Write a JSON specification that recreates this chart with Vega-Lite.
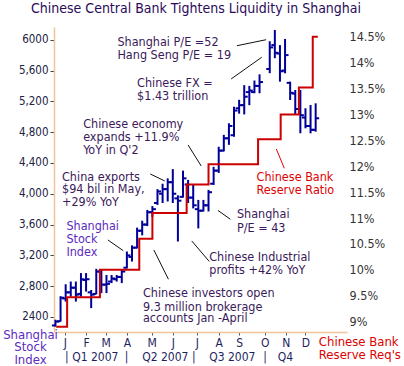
{
  "$schema": "https://vega.github.io/schema/vega-lite/v6.json",
  "width": 293,
  "height": 305,
  "autosize": "none",
  "padding": {"left": 54, "top": 27, "right": 57, "bottom": 34},
  "config": {
    "view": {"stroke": null},
    "font": "DejaVu Sans Condensed, DejaVu Sans, sans-serif"
  },
  "title": {
    "text": "Chinese Central Bank Tightens Liquidity in Shanghai",
    "anchor": "start",
    "frame": "group",
    "dx": -23,
    "offset": 0,
    "baseline": "alphabetic",
    "fontSize": 14,
    "fontWeight": "normal",
    "color": "#2A0A5A"
  },
  "datasets": {
    "ohlc": [
      {"date": "2007-01-03T00:00", "open": 2290, "high": 2365, "low": 2275, "close": 2340},
      {"date": "2007-01-10T00:00", "open": 2345, "high": 2670, "low": 2340, "close": 2650},
      {"date": "2007-01-17T00:00", "open": 2640, "high": 2825, "low": 2600, "close": 2720},
      {"date": "2007-01-24T00:00", "open": 2720, "high": 2860, "low": 2665, "close": 2780},
      {"date": "2007-01-31T00:00", "open": 2780, "high": 2860, "low": 2600, "close": 2690},
      {"date": "2007-02-07T00:00", "open": 2700, "high": 2970, "low": 2665, "close": 2890},
      {"date": "2007-02-14T00:00", "open": 2880, "high": 2970, "low": 2730, "close": 2890},
      {"date": "2007-02-21T00:00", "open": 2720, "high": 2750, "low": 2515, "close": 2690},
      {"date": "2007-02-28T00:00", "open": 2700, "high": 3025, "low": 2695, "close": 2990},
      {"date": "2007-03-07T00:00", "open": 2990, "high": 3010, "low": 2710, "close": 2820},
      {"date": "2007-03-14T00:00", "open": 2820, "high": 2945, "low": 2710, "close": 2830},
      {"date": "2007-03-21T00:00", "open": 2860, "high": 2945, "low": 2840, "close": 2900},
      {"date": "2007-03-28T00:00", "open": 2890, "high": 2945, "low": 2860, "close": 2920},
      {"date": "2007-04-04T00:00", "open": 2920, "high": 3010, "low": 2840, "close": 2990},
      {"date": "2007-04-11T00:00", "open": 3040, "high": 3250, "low": 3030, "close": 3200},
      {"date": "2007-04-18T00:00", "open": 3180, "high": 3330, "low": 3120, "close": 3300},
      {"date": "2007-04-25T00:00", "open": 3300, "high": 3560, "low": 3290, "close": 3520},
      {"date": "2007-05-02T00:00", "open": 3520, "high": 3650, "low": 3460, "close": 3600},
      {"date": "2007-05-09T00:00", "open": 3600, "high": 3790, "low": 3580, "close": 3760},
      {"date": "2007-05-16T00:00", "open": 3760, "high": 3840, "low": 3700, "close": 3800},
      {"date": "2007-05-23T00:00", "open": 3880, "high": 4060, "low": 3855, "close": 4030},
      {"date": "2007-05-30T00:00", "open": 4000, "high": 4130, "low": 3880, "close": 4060},
      {"date": "2007-06-06T00:00", "open": 4060, "high": 4200, "low": 3900, "close": 4150},
      {"date": "2007-06-13T00:00", "open": 4150, "high": 4320, "low": 3880, "close": 4000},
      {"date": "2007-06-20T00:00", "open": 3940, "high": 3980, "low": 3380, "close": 3910},
      {"date": "2007-06-27T00:00", "open": 3960, "high": 4300, "low": 3950, "close": 4200},
      {"date": "2007-07-04T00:00", "open": 4120, "high": 4180, "low": 3880, "close": 3950},
      {"date": "2007-07-11T00:00", "open": 3950, "high": 4115, "low": 3810, "close": 3850},
      {"date": "2007-07-18T00:00", "open": 3800, "high": 3920, "low": 3550, "close": 3780},
      {"date": "2007-07-25T00:00", "open": 3780, "high": 3920, "low": 3770, "close": 3850},
      {"date": "2007-08-01T00:00", "open": 3850, "high": 4050, "low": 3770, "close": 4020},
      {"date": "2007-08-08T00:00", "open": 4130, "high": 4350, "low": 4115, "close": 4300},
      {"date": "2007-08-15T00:00", "open": 4300, "high": 4610, "low": 4270, "close": 4560},
      {"date": "2007-08-22T00:00", "open": 4560, "high": 4765, "low": 4550, "close": 4720},
      {"date": "2007-08-29T00:00", "open": 4720, "high": 4915, "low": 4635, "close": 4880},
      {"date": "2007-09-05T00:00", "open": 4760, "high": 5130, "low": 4740, "close": 5080},
      {"date": "2007-09-12T00:00", "open": 5110, "high": 5220, "low": 5040, "close": 5150},
      {"date": "2007-09-19T00:00", "open": 5150, "high": 5410, "low": 5030, "close": 5260},
      {"date": "2007-09-26T00:00", "open": 5320, "high": 5400, "low": 5150, "close": 5340},
      {"date": "2007-10-03T00:00", "open": 5320, "high": 5470, "low": 5305, "close": 5400},
      {"date": "2007-10-10T00:00", "open": 5400, "high": 5550, "low": 5305, "close": 5450},
      {"date": "2007-10-24T00:00", "open": 5620, "high": 5980, "low": 5565, "close": 5900},
      {"date": "2007-10-31T00:00", "open": 5930, "high": 6126, "low": 5760, "close": 5830},
      {"date": "2007-11-07T00:00", "open": 5820, "high": 5930, "low": 5455, "close": 5590},
      {"date": "2007-11-14T00:00", "open": 5600, "high": 6010, "low": 5564, "close": 5800},
      {"date": "2007-11-21T00:00", "open": 5440, "high": 5455, "low": 5217, "close": 5310},
      {"date": "2007-11-28T00:00", "open": 5300, "high": 5347, "low": 5023, "close": 5100},
      {"date": "2007-12-05T00:00", "open": 5100, "high": 5347, "low": 4785, "close": 5020},
      {"date": "2007-12-12T00:00", "open": 4990, "high": 5110, "low": 4850, "close": 4880},
      {"date": "2007-12-19T00:00", "open": 4880, "high": 5152, "low": 4785, "close": 4830},
      {"date": "2007-12-26T00:00", "open": 4830, "high": 5174, "low": 4806, "close": 4980}
    ],
    "reserve": [
      {"date": "2007-01-04T00:00", "ratio": 8.9},
      {"date": "2007-01-19T00:00", "ratio": 9.47},
      {"date": "2007-03-05T00:00", "ratio": 10.0},
      {"date": "2007-04-28T00:00", "ratio": 10.6},
      {"date": "2007-05-16T00:00", "ratio": 11.1},
      {"date": "2007-07-02T00:00", "ratio": 11.65},
      {"date": "2007-08-01T00:00", "ratio": 12.04},
      {"date": "2007-10-08T00:00", "ratio": 12.52},
      {"date": "2007-11-08T00:00", "ratio": 13.0},
      {"date": "2007-12-03T00:00", "ratio": 13.52},
      {"date": "2007-12-22T00:00", "ratio": 14.5},
      {"date": "2007-12-29T00:00", "ratio": 14.5}
    ],
    "notes": [
      {"date": "2007-03-29T00:00", "value": 5974, "text": "Shanghai P/E =52", "kind": "note"},
      {"date": "2007-03-29T00:00", "value": 5801, "text": "Hang Seng P/E = 19", "kind": "note"},
      {"date": "2007-04-25T00:00", "value": 5434, "text": "Chinese FX =", "kind": "note"},
      {"date": "2007-04-25T00:00", "value": 5269, "text": "$1.43 trillion", "kind": "note"},
      {"date": "2007-02-10T00:00", "value": 4902, "text": "Chinese economy", "kind": "note"},
      {"date": "2007-02-10T00:00", "value": 4733, "text": "expands +11.9%", "kind": "note"},
      {"date": "2007-02-10T00:00", "value": 4568, "text": "YoY in Q'2", "kind": "note"},
      {"date": "2007-01-12T00:00", "value": 4222, "text": "China exports", "kind": "note"},
      {"date": "2007-01-12T00:00", "value": 4058, "text": "$94 bil in May,", "kind": "note"},
      {"date": "2007-01-12T00:00", "value": 3897, "text": "+29% YoY", "kind": "note"},
      {"date": "2007-01-18T00:00", "value": 3585, "text": "Shanghai", "kind": "stock"},
      {"date": "2007-01-18T00:00", "value": 3413, "text": "Stock", "kind": "stock"},
      {"date": "2007-01-18T00:00", "value": 3248, "text": "Index", "kind": "stock"},
      {"date": "2007-10-06T00:00", "value": 4214, "text": "Chinese Bank", "kind": "red"},
      {"date": "2007-10-06T00:00", "value": 4049, "text": "Reserve Ratio", "kind": "red"},
      {"date": "2007-09-09T00:00", "value": 3733, "text": "Shanghai", "kind": "note"},
      {"date": "2007-09-09T00:00", "value": 3552, "text": "P/E = 43", "kind": "note"},
      {"date": "2007-08-02T00:00", "value": 3175, "text": "Chinese Industrial", "kind": "note"},
      {"date": "2007-08-02T00:00", "value": 3010, "text": "profits +42% YoY", "kind": "note"},
      {"date": "2007-05-03T00:00", "value": 2708, "text": "Chinese investors open", "kind": "note"},
      {"date": "2007-05-03T00:00", "value": 2534, "text": "9.3 million brokerage", "kind": "note"},
      {"date": "2007-05-03T00:00", "value": 2383, "text": "accounts Jan -April", "kind": "note"}
    ],
    "leaders": [
      {"date": "2007-09-09T00:00", "value": 5922, "date2": "2007-10-19T00:00", "value2": 6000, "kind": "leader"},
      {"date": "2007-09-01T00:00", "value": 5490, "date2": "2007-10-13T00:00", "value2": 5772, "kind": "leader"},
      {"date": "2007-07-04T00:00", "value": 4633, "date2": "2007-07-22T00:00", "value2": 4360, "kind": "leader"},
      {"date": "2007-05-13T00:00", "value": 4257, "date2": "2007-06-02T00:00", "value2": 4166, "kind": "leader"},
      {"date": "2007-03-16T00:00", "value": 3400, "date2": "2007-04-06T00:00", "value2": 3261, "kind": "leader"},
      {"date": "2007-11-02T00:00", "value": 4581, "date2": "2007-11-13T00:00", "value2": 4331, "kind": "red"},
      {"date": "2007-08-14T00:00", "value": 3783, "date2": "2007-08-31T00:00", "value2": 3669, "kind": "leader"},
      {"date": "2007-07-09T00:00", "value": 3387, "date2": "2007-08-02T00:00", "value2": 3121, "kind": "leader"},
      {"date": "2007-05-18T00:00", "value": 3270, "date2": "2007-06-07T00:00", "value2": 2890, "kind": "leader"}
    ]
  },
  "layer": [
    {
      "data": {"name": "ohlc"},
      "mark": {"type": "rule", "color": "#000099", "strokeWidth": 2},
      "encoding": {
        "x": {
          "field": "date",
          "type": "temporal",
          "scale": {"domain": [{"year": 2007, "month": 1, "date": 1}, {"year": 2008, "month": 2, "date": 7}]},
          "axis": {
            "orient": "bottom",
            "title": null,
            "grid": false,
            "values": [
              {"year": 2007, "month": 1, "date": 16},
              {"year": 2007, "month": 2, "date": 14},
              {"year": 2007, "month": 3, "date": 13},
              {"year": 2007, "month": 4, "date": 11},
              {"year": 2007, "month": 5, "date": 15},
              {"year": 2007, "month": 6, "date": 13},
              {"year": 2007, "month": 7, "date": 16},
              {"year": 2007, "month": 8, "date": 15},
              {"year": 2007, "month": 9, "date": 12},
              {"year": 2007, "month": 10, "date": 17},
              {"year": 2007, "month": 11, "date": 15},
              {"year": 2007, "month": 12, "date": 12}
            ],
            "labelExpr": "substring(timeFormat(datum.value, '%b'), 0, 1)",
            "labelOverlap": false,
            "labelFlush": false,
            "domainColor": "#F3C39A",
            "domainWidth": 1.5,
            "tickColor": "#555555",
            "tickSize": 3,
            "labelPadding": 2,
            "labelFontSize": 12,
            "labelColor": "#1F1F5F"
          }
        },
        "y": {
          "field": "low",
          "type": "quantitative",
          "scale": {"domain": [2205, 6165], "nice": false, "zero": false},
          "axis": {
            "orient": "left",
            "values": [2400, 2800, 3200, 3600, 4000, 4400, 4800, 5200, 5600, 6000],
            "labelExpr": "datum.value == 2400 || datum.value == 6000 ? '' + datum.value : format(datum.value, ',')",
            "grid": false,
            "domainColor": "#F3C39A",
            "domainWidth": 1.5,
            "tickSize": 4,
            "tickColor": "#444444",
            "labelPadding": 2,
            "labelFontSize": 11.5,
            "labelColor": "#222244",
            "title": ["Shanghai", "Stock", "Index"],
            "titleAngle": 0,
            "titleX": -24,
            "titleY": 301,
            "titleAlign": "center",
            "titleBaseline": "top",
            "titleColor": "#5B2BC0",
            "titleFontSize": 13,
            "titleFontWeight": "normal",
            "titleLineHeight": 12.5
          }
        },
        "y2": {"field": "high"}
      }
    },
    {
      "data": {"name": "ohlc"},
      "mark": {"type": "rule", "color": "#000099", "strokeWidth": 2, "xOffset": -3.5, "x2Offset": 0},
      "encoding": {
        "x": {"field": "date", "type": "temporal", "scale": {"domain": [{"year": 2007, "month": 1, "date": 1}, {"year": 2008, "month": 2, "date": 7}]}, "axis": null},
        "x2": {"field": "date"},
        "y": {"field": "open", "type": "quantitative", "scale": {"domain": [2205, 6165], "nice": false, "zero": false}, "axis": null}
      }
    },
    {
      "data": {"name": "ohlc"},
      "mark": {"type": "rule", "color": "#000099", "strokeWidth": 2, "xOffset": 0, "x2Offset": 3.5},
      "encoding": {
        "x": {"field": "date", "type": "temporal", "scale": {"domain": [{"year": 2007, "month": 1, "date": 1}, {"year": 2008, "month": 2, "date": 7}]}, "axis": null},
        "x2": {"field": "date"},
        "y": {"field": "close", "type": "quantitative", "scale": {"domain": [2205, 6165], "nice": false, "zero": false}, "axis": null}
      }
    },
    {
      "data": {"name": "leaders"},
      "mark": {"type": "rule", "strokeWidth": 1},
      "encoding": {
        "x": {"field": "date", "type": "temporal", "scale": {"domain": [{"year": 2007, "month": 1, "date": 1}, {"year": 2008, "month": 2, "date": 7}]}, "axis": null},
        "x2": {"field": "date2"},
        "y": {"field": "value", "type": "quantitative", "scale": {"domain": [2205, 6165], "nice": false, "zero": false}, "axis": null},
        "y2": {"field": "value2"},
        "color": {
          "field": "kind",
          "type": "nominal",
          "scale": {"domain": ["note", "stock", "red", "leader"], "range": ["#3A1A5A", "#5B2BC0", "#DD0000", "#111111"]},
          "legend": null
        }
      }
    },
    {
      "data": {"name": "notes"},
      "mark": {"type": "text", "align": "left", "baseline": "middle", "fontSize": 12.5},
      "encoding": {
        "x": {"field": "date", "type": "temporal", "scale": {"domain": [{"year": 2007, "month": 1, "date": 1}, {"year": 2008, "month": 2, "date": 7}]}, "axis": null},
        "y": {"field": "value", "type": "quantitative", "scale": {"domain": [2205, 6165], "nice": false, "zero": false}, "axis": null},
        "text": {"field": "text"},
        "color": {
          "field": "kind",
          "type": "nominal",
          "scale": {"domain": ["note", "stock", "red", "leader"], "range": ["#3A1A5A", "#5B2BC0", "#DD0000", "#111111"]},
          "legend": null
        }
      }
    },
    {
      "data": {"name": "reserve"},
      "mark": {"type": "line", "interpolate": "step-after", "color": "#CC0000", "strokeWidth": 2},
      "encoding": {
        "x": {
          "field": "date",
          "type": "temporal",
          "scale": {"domain": [{"year": 2007, "month": 1, "date": 1}, {"year": 2008, "month": 2, "date": 7}]},
          "axis": {
            "orient": "bottom",
            "title": null,
            "grid": false,
            "domain": false,
            "ticks": false,
            "tickSize": 0,
            "values": [
              {"year": 2007, "month": 1, "date": 18},
              {"year": 2007, "month": 2, "date": 26},
              {"year": 2007, "month": 4, "date": 10},
              {"year": 2007, "month": 6, "date": 2},
              {"year": 2007, "month": 7, "date": 11},
              {"year": 2007, "month": 9, "date": 2},
              {"year": 2007, "month": 10, "date": 17},
              {"year": 2007, "month": 11, "date": 14}
            ],
            "labelExpr": "month(datum.value) == 1 ? 'Q1 2007' : month(datum.value) == 5 ? 'Q2 2007' : month(datum.value) == 8 ? 'Q3 2007' : month(datum.value) == 10 ? 'Q4' : '|'",
            "labelOverlap": false,
            "labelFlush": false,
            "labelPadding": 19,
            "labelFontSize": 12,
            "labelColor": "#1F1F5F"
          }
        },
        "y": {
          "field": "ratio",
          "type": "quantitative",
          "scale": {"domain": [8.8, 14.69], "nice": false, "zero": false},
          "axis": {
            "orient": "right",
            "values": [9, 9.5, 10, 10.5, 11, 11.5, 12, 12.5, 13, 13.5, 14, 14.5],
            "labelExpr": "datum.value + '%'",
            "grid": false,
            "domain": false,
            "ticks": false,
            "labelPadding": 2,
            "labelFontSize": 12.5,
            "labelColor": "#333333",
            "title": ["Chinese Bank", "Reserve Req's"],
            "titleAngle": 0,
            "titleX": -28.7,
            "titleY": 308.5,
            "titleAlign": "left",
            "titleBaseline": "top",
            "titleColor": "#DD0000",
            "titleFontSize": 13,
            "titleFontWeight": "normal",
            "titleLineHeight": 13
          }
        }
      }
    }
  ],
  "resolve": {"scale": {"y": "independent"}, "axis": {"x": "independent", "y": "independent"}}
}
